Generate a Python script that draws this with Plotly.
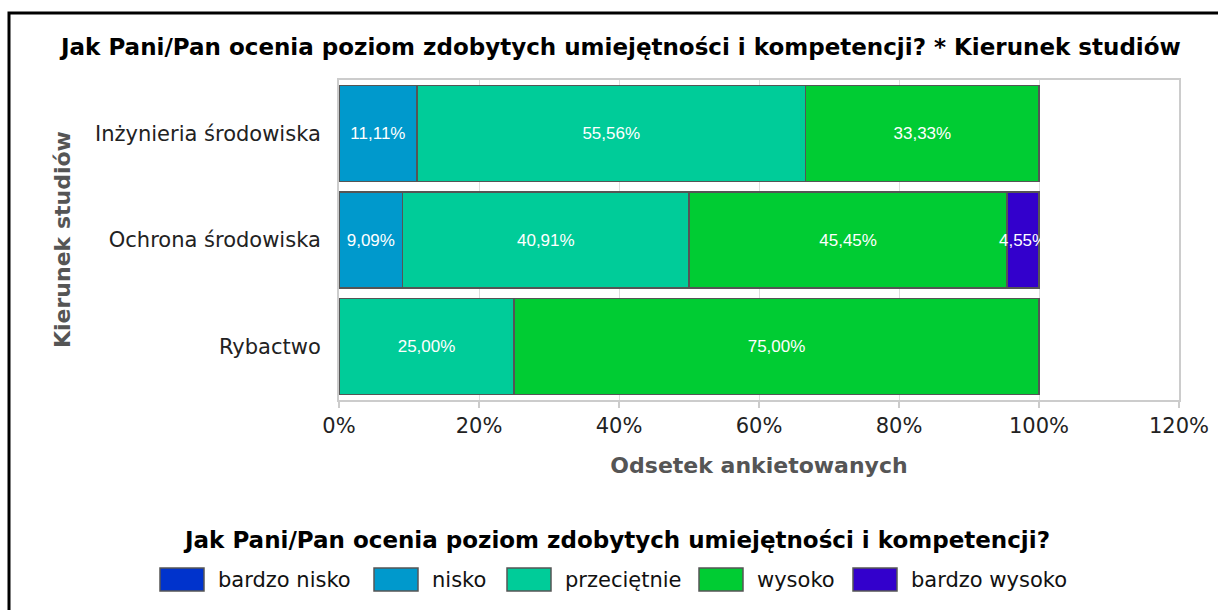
import plotly.graph_objects as go

categories = ["Inżynieria środowiska", "Ochrona środowiska", "Rybactwo"]
series_names = ["bardzo nisko", "nisko", "przeciętnie", "wysoko", "bardzo wysoko"]
bardzo_nisko = [0, 0, 0]
nisko = [11.11, 9.09, 0]
przecietnie = [55.56, 40.91, 25.00]
wysoko = [33.33, 45.45, 75.00]
bardzo_wysoko = [0, 4.55, 0]
series_values = [bardzo_nisko, nisko, przecietnie, wysoko, bardzo_wysoko]
colors = ["#0033CC", "#0099CC", "#00CC99", "#00CC33", "#3300CC"]
x_ticks = [0, 20, 40, 60, 80, 100, 120]
x_tick_labels = ["0%", "20%", "40%", "60%", "80%", "100%", "120%"]

title = "Jak Pani/Pan ocenia poziom zdobytych umiejętności i kompetencji? * Kierunek studiów"
legend_title = "Jak Pani/Pan ocenia poziom zdobytych umiejętności i kompetencji?"
x_title = "Odsetek ankietowanych"
y_title = "Kierunek studiów"

# plot area in pixels
WIDTH, HEIGHT = 1218, 610
L, T, W, H = 339, 80, 840, 320


def px(x):
    return (x - L) / W


def py(y):
    return (T + H - y) / H


def fmt(v):
    return ("%.2f%%" % v).replace(".", ",")


fig = go.Figure()
for name, vals, col in zip(series_names, series_values, colors):
    xs = [v if v > 0 else None for v in vals]
    fig.add_trace(go.Bar(
        y=categories, x=xs, name=name, orientation="h",
        marker=dict(color=col, line=dict(color="#555555", width=1.5)),
        text=[fmt(v) if v > 0 else "" for v in vals],
        textposition="inside", insidetextanchor="middle", textangle=0,
        textfont=dict(color="white", size=17, family="Liberation Sans"),
        showlegend=False, cliponaxis=False, hoverinfo="skip",
    ))

font_main = "DejaVu Sans"

fig.update_layout(
    barmode="stack",
    width=WIDTH, height=HEIGHT,
    margin=dict(l=L, r=WIDTH - L - W, t=T, b=HEIGHT - T - H, autoexpand=False),
    paper_bgcolor="white", plot_bgcolor="white",
    bargap=0.1,
    uniformtext=dict(minsize=17, mode="show"),
    font=dict(family=font_main, size=20, color="#222222"),
    xaxis=dict(
        range=[0, 120], tickvals=x_ticks, ticktext=x_tick_labels,
        showgrid=True, gridcolor="#dddddd", gridwidth=1,
        showline=True, linecolor="#cccccc", linewidth=2, mirror=True,
        ticks="outside", ticklen=6, tickcolor="#cccccc", tickwidth=2,
        zeroline=False,
        tickfont=dict(family=font_main, size=21, color="#222222"),
        title=dict(text="<b>" + x_title + "</b>", standoff=20,
                   font=dict(family=font_main, size=22, color="#555555")),
    ),
    yaxis=dict(
        categoryorder="array", categoryarray=categories, autorange="reversed",
        showline=True, linecolor="#cccccc", linewidth=2, mirror=True,
        ticks="", ticklabelstandoff=12,
        tickfont=dict(family=font_main, size=21, color="#222222"),
    ),
)

shapes = []
annotations = []
# outer frame
shapes.append(dict(type="rect", xref="paper", yref="paper",
                   x0=px(9), x1=px(1240), y0=py(13), y1=py(640),
                   line=dict(color="black", width=3), fillcolor="rgba(0,0,0,0)", layer="below"))

annotations.append(dict(text="<b>" + title + "</b>", xref="paper", yref="paper",
                        x=px(620), y=py(47), xanchor="center", yanchor="middle",
                        showarrow=False, font=dict(family=font_main, size=23, color="black")))
annotations.append(dict(text="<b>" + y_title + "</b>", xref="paper", yref="paper",
                        x=px(62), y=py(240), xanchor="center", yanchor="middle", textangle=-90,
                        showarrow=False, font=dict(family=font_main, size=22, color="#555555")))
annotations.append(dict(text="<b>" + legend_title + "</b>", xref="paper", yref="paper",
                        x=px(616), y=py(540), xanchor="center", yanchor="middle",
                        showarrow=False, font=dict(family=font_main, size=23, color="black")))

legend_box_x = [160, 374, 507, 699, 853]
for name, col, bx in zip(series_names, colors, legend_box_x):
    shapes.append(dict(type="rect", xref="paper", yref="paper",
                       x0=px(bx), x1=px(bx + 44), y0=py(591), y1=py(568),
                       line=dict(color="#555555", width=1.5), fillcolor=col))
    annotations.append(dict(text=name, xref="paper", yref="paper",
                            x=px(bx + 56), y=py(580), xanchor="left", yanchor="middle",
                            showarrow=False, font=dict(family=font_main, size=21, color="#111111")))

fig.update_layout(shapes=shapes, annotations=annotations)
fig.write_html("out.html", config={"displayModeBar": False},
               post_script="document.body.style.margin='0';")
